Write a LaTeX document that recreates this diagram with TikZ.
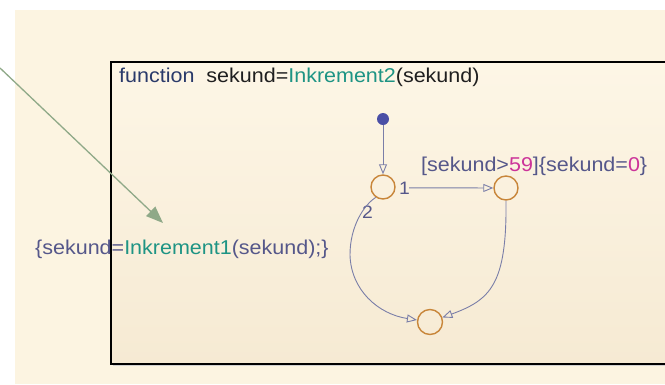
\documentclass[tikz,border=0pt]{standalone}
\usepackage{fontspec}
\setmainfont{Liberation Sans}[FakeStretch=1.075]
\usetikzlibrary{arrows.meta}
\definecolor{bgcream}{HTML}{FCF4E1}
\definecolor{boxtop}{HTML}{FDF6E6}
\definecolor{boxbot}{HTML}{F6EAD3}
\definecolor{stateor}{HTML}{C8863A}
\definecolor{trans}{HTML}{7A7EA8}
\definecolor{navy}{HTML}{2A3A6A}
\definecolor{labgrey}{HTML}{55578A}
\definecolor{teal}{HTML}{1E9484}
\definecolor{magen}{HTML}{CC3399}
\definecolor{dotblue}{HTML}{4A4FA6}
\definecolor{greenarrow}{HTML}{8FA988}
\tikzset{
  stt/.style={circle, draw=stateor, line width=1.4pt, minimum size=24pt, inner sep=0pt},
  trn/.style={draw=trans, line width=0.9pt, -{Triangle[open, length=10pt, width=8pt]}},
  txt/.style={inner sep=0pt, anchor=base west, font=\fontsize{20}{24}\selectfont},
  small/.style={inner sep=0pt, anchor=base west, font=\fontsize{18}{21}\selectfont, text=labgrey}
}
\begin{document}
\begin{tikzpicture}[x=1pt, y=-1pt]
\useasboundingbox (0,0) rectangle (665,384);
\fill[white] (0,0) rectangle (665,384);
\fill[bgcream] (15,10) rectangle (665,384);
% chart box
\fill[black!18] (113,64) rectangle (672,366);
\shade[top color=boxtop, bottom color=boxbot] (111,62) rectangle (672,364);
\draw[black, line width=1.5pt] (111,62) rectangle (672,364);
% title
\node[txt] (title) at (119,82) {\textcolor{navy}{function}\ \ \textcolor{black!88}{sekund=}\textcolor{teal}{Inkrement2}\textcolor{black!88}{(sekund)}};
% states
\node[circle, fill=dotblue, minimum size=12pt, inner sep=0pt] (dot) at (383,119) {};
\node[stt] (s1) at (383,187) {};
\node[stt] (s2) at (506,188) {};
\node[stt, minimum size=25pt] (s3) at (430,322) {};
% labels
\node[small] (one) at (399,194) {1};
\node[small] (two) at (362,218) {2};
\node[txt, text=labgrey] (guard) at (421,171) {[sekund>\textcolor{magen}{59}]\{sekund=\textcolor{magen}{0}\}};
\node[txt, text=labgrey] (action) at (35,254) {\{sekund=\textcolor{teal}{Inkrement1}(sekund);\}};
% transitions
\draw[trn] (dot) -- (s1);
\draw[trn] ([xshift=-1pt]one.east) -- (s2);
\draw[trn] (s1.235) .. controls (364,205) and (350,226) .. (350,255)
   .. controls (351,290) and (378,314) .. (s3);
\draw[trn] (s2.south) .. controls (507,285) and (490,300) .. (s3);
% green arrow
\coordinate (gs) at (0,68);
\coordinate (ge) at (163,223);
\draw[greenarrow, line width=1.3pt, -{Triangle[length=17pt, width=13pt]}] (gs) -- (ge);
\end{tikzpicture}
\end{document}
